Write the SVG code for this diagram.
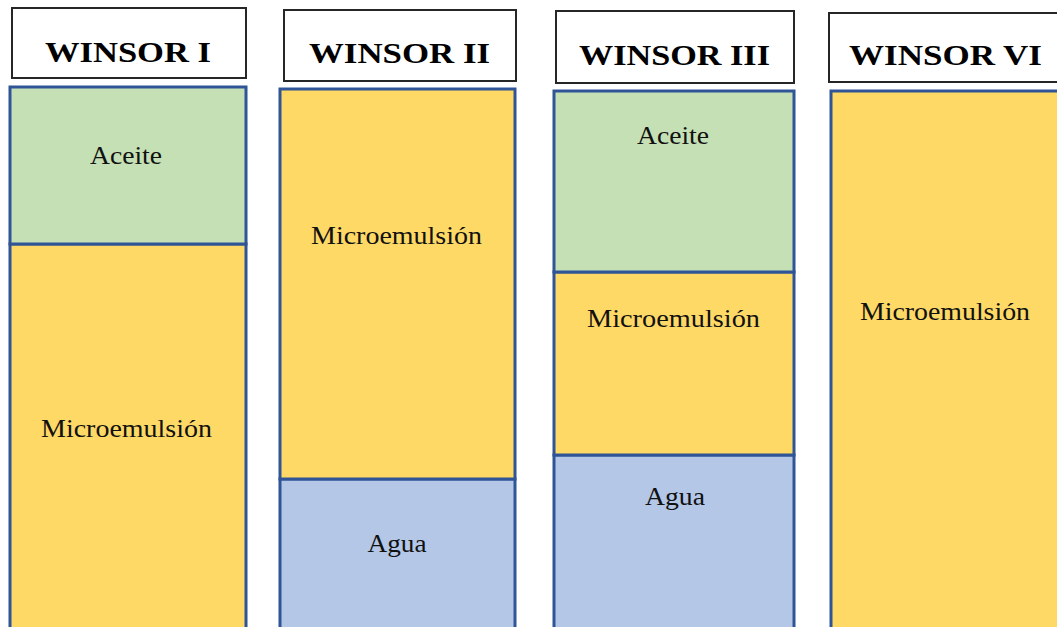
<svg xmlns="http://www.w3.org/2000/svg" width="1057" height="627" viewBox="0 0 1057 627">
<style>
.title{fill:#fff;stroke:#262626;stroke-width:2}
.tt{font-family:'Liberation Serif','Times New Roman','DejaVu Serif',serif;font-weight:bold;font-size:30px;fill:#000;text-anchor:middle}
.lb{font-family:'Liberation Serif','Times New Roman','DejaVu Serif',serif;font-size:26px;fill:#111;text-anchor:middle}
.oil{fill:#C5E0B4;stroke:#2F5597;stroke-width:3}
.mic{fill:#FFD966;stroke:#2F5597;stroke-width:3}
.wat{fill:#B4C7E7;stroke:#2F5597;stroke-width:3}
</style>
<rect width="1057" height="627" fill="#fff"/>
<g id="winsor1">
<rect class="title" x="12" y="8" width="234" height="70"/>
<text class="tt" x="128" y="62" textLength="166" lengthAdjust="spacingAndGlyphs">WINSOR I</text>
<rect class="mic" x="10" y="244" width="236" height="400"/>
<rect class="oil" x="10" y="87" width="236" height="157"/>
<text class="lb" x="126" y="164" textLength="72" lengthAdjust="spacingAndGlyphs">Aceite</text>
<text class="lb" x="126.5" y="437" textLength="171" lengthAdjust="spacingAndGlyphs">Microemulsión</text>
</g>
<g id="winsor2">
<rect class="title" x="284" y="10" width="232" height="71"/>
<text class="tt" x="399.5" y="63" textLength="181" lengthAdjust="spacingAndGlyphs">WINSOR II</text>
<rect class="wat" x="280" y="479" width="235" height="170"/>
<rect class="mic" x="280" y="89" width="235" height="390"/>
<text class="lb" x="396.5" y="244" textLength="171" lengthAdjust="spacingAndGlyphs">Microemulsión</text>
<text class="lb" x="397" y="552" textLength="59" lengthAdjust="spacingAndGlyphs">Agua</text>
</g>
<g id="winsor3">
<rect class="title" x="556" y="11" width="238" height="72"/>
<text class="tt" x="674.5" y="65" textLength="191" lengthAdjust="spacingAndGlyphs">WINSOR III</text>
<rect class="wat" x="554" y="455" width="240" height="190"/>
<rect class="mic" x="554" y="272" width="240" height="183"/>
<rect class="oil" x="554" y="91" width="240" height="181"/>
<text class="lb" x="673" y="144" textLength="72" lengthAdjust="spacingAndGlyphs">Aceite</text>
<text class="lb" x="673.5" y="327" textLength="173" lengthAdjust="spacingAndGlyphs">Microemulsión</text>
<text class="lb" x="675" y="505" textLength="60" lengthAdjust="spacingAndGlyphs">Agua</text>
</g>
<g id="winsor6">
<rect class="title" x="829" y="13" width="240" height="69"/>
<text class="tt" x="945.5" y="65" textLength="193" lengthAdjust="spacingAndGlyphs">WINSOR VI</text>
<rect class="mic" x="831" y="91" width="240" height="560"/>
<text class="lb" x="945" y="320" textLength="170" lengthAdjust="spacingAndGlyphs">Microemulsión</text>
</g>
<g id="connectors"/>
</svg>
